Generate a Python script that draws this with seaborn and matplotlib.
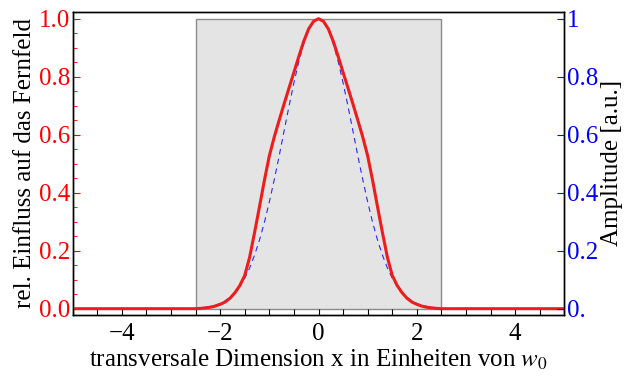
import numpy as np
import pandas as pd
import matplotlib
matplotlib.use("Agg")
import matplotlib.pyplot as plt
import seaborn as sns
from matplotlib.patches import Rectangle
from matplotlib.ticker import MultipleLocator

# x grid (half profile, 0 .. 2.5 step 0.1) - curves are symmetric
x_half = [0.0, 0.1, 0.2, 0.3, 0.4, 0.5, 0.6, 0.7, 0.8, 0.9, 1.0,
          1.1, 1.2, 1.3, 1.4, 1.5, 1.6, 1.7, 1.8, 1.9, 2.0,
          2.1, 2.2, 2.3, 2.4, 2.5]
# red: relative influence on far field
red_half = [1.000, 0.991, 0.965, 0.922, 0.870, 0.815, 0.761, 0.706, 0.650, 0.592, 0.527,
            0.443, 0.352, 0.263, 0.178, 0.115, 0.080, 0.055, 0.036, 0.023, 0.015,
            0.009, 0.005, 0.003, 0.001, 0.000]
# blue dashed: amplitude
blue_half = [1.000, 0.990, 0.961, 0.914, 0.852, 0.779, 0.698, 0.613, 0.527, 0.445, 0.368,
             0.298, 0.237, 0.185, 0.141, 0.105, 0.077, 0.056, 0.039, 0.027, 0.018,
             0.012, 0.008, 0.005, 0.003, 0.002]
red_outer_x = [-5.0, 5.0]
red_outer_y = [0.0, 0.0]

aperture = (-2.5, 2.5)
left_ticklabels = ["0.0", "0.2", "0.4", "0.6", "0.8", "1.0"]
right_ticklabels = ["0.", "0.2", "0.4", "0.6", "0.8", "1"]
yticks = [0.0, 0.2, 0.4, 0.6, 0.8, 1.0]
xticks = [-4, -2, 0, 2, 4]

xs = [-v for v in x_half[::-1]] + x_half[1:]
red = red_half[::-1] + red_half[1:]
blue = blue_half[::-1] + blue_half[1:]
red_x = [red_outer_x[0]] + xs + [red_outer_x[1]]
red_y = [red_outer_y[0]] + red + [red_outer_y[1]]

df_red = pd.DataFrame({"x": red_x, "y": red_y})
df_blue = pd.DataFrame({"x": xs, "y": blue})

sns.set_theme(style="ticks")
plt.rcParams['font.family'] = ['Liberation Serif', 'DejaVu Serif']
plt.rcParams['mathtext.fontset'] = 'stix'
FAM = ['Liberation Serif', 'DejaVu Serif']

fig = plt.figure(figsize=(6.25, 3.78), dpi=100)
ax = fig.add_axes([0.1163, 0.1667, 0.9029 - 0.1163, 0.969 - 0.1667])
ax2 = ax.twinx()

ax.add_patch(Rectangle((aperture[0], 0), aperture[1] - aperture[0], 1.0,
                       facecolor="#e4e4e4", edgecolor="#8c8c8c", linewidth=1.0, zorder=0))

sns.lineplot(data=df_blue, x="x", y="y", ax=ax, color="#2a2aff", linewidth=0.8,
             linestyle=(0, (5, 4)), zorder=2, sort=False)
sns.lineplot(data=df_red, x="x", y="y", ax=ax, color="#ee1c1c", linewidth=2.2,
             zorder=3, sort=False)

ax.set_xlim(-5, 5)
ax.set_ylim(-0.0217, 1.024)
ax2.set_ylim(-0.0217, 1.024)

fs = 18
ax.set_xticks(xticks)
ax.set_xticklabels([f"{v}" if v >= 0 else f"\u2212{abs(v)}" for v in xticks],
                   fontsize=fs, fontfamily=FAM)
ax.xaxis.set_minor_locator(MultipleLocator(0.5))
ax.set_yticks(yticks)
ax.set_yticklabels(left_ticklabels, fontsize=fs, color="red", fontfamily=FAM)
ax.yaxis.set_minor_locator(MultipleLocator(0.05))
ax.tick_params(axis="x", which="both", direction="in", colors="black", top=False, length=4, width=0.8, pad=6)
ax.tick_params(axis="y", which="major", direction="in", colors="red", length=5, width=0.8, pad=2)
ax.tick_params(axis="y", which="minor", direction="in", colors="red", length=3, width=0.6)
for lab in ax.get_yticklabels():
    lab.set_color("red")

ax2.set_yticks(yticks)
ax2.set_yticklabels(right_ticklabels, fontsize=fs, color="blue", fontfamily=FAM)
ax2.tick_params(axis="y", which="major", direction="in", colors="blue", length=5, width=0.8, pad=2)
for lab in ax2.get_yticklabels():
    lab.set_color("blue")

for a in (ax, ax2):
    for s in a.spines.values():
        s.set_visible(True)
        s.set_color("black")
        s.set_linewidth(1.0)

ax.set_xlabel("transversale Dimension x in Einheiten von $w_0$", fontsize=fs, color="black",
              labelpad=2, fontfamily=FAM)
ax.set_ylabel("rel. Einfluss auf das Fernfeld", fontsize=fs, color="black", labelpad=2,
              fontfamily=FAM)
ax2.set_ylabel("Amplitude [a.u.]", fontsize=fs, color="black", labelpad=2, fontfamily=FAM)
ax.set_facecolor("white")

fig.savefig("out.png", dpi=100)
